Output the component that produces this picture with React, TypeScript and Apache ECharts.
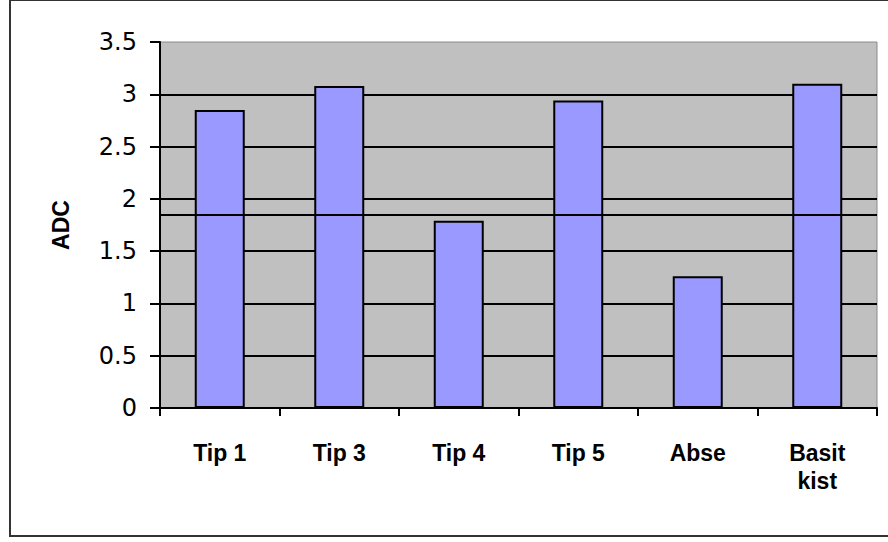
import React, { useEffect, useRef } from "react";
import * as echarts from "echarts";

const categories = ["Tip 1", "Tip 3", "Tip 4", "Tip 5", "Abse", "Basit\nkist"];
const adcValues = [2.85, 3.08, 1.79, 2.94, 1.26, 3.1];
const referenceValue = 1.85;
const yAxisTitle = "ADC";

export default function App() {
  const ref = useRef<HTMLDivElement>(null);
  useEffect(() => {
    if (!ref.current) return;
    const chart = echarts.init(ref.current, null, { renderer: "svg" });
    chart.setOption({
      animation: false,
      backgroundColor: "#ffffff",
      graphic: [
        {
          type: "rect",
          shape: { x: 10, y: 0, width: 890, height: 536 },
          style: { fill: "none", stroke: "#333", lineWidth: 2 },
          z: 100,
        },
      ],
      grid: {
        left: 160,
        top: 42,
        right: 11,
        bottom: 134,
        show: true,
        backgroundColor: "#C0C0C0",
        borderColor: "#8a8a8a",
        borderWidth: 1,
      },
      xAxis: {
        type: "category",
        data: categories,
        boundaryGap: true,
        axisLine: { show: true, lineStyle: { color: "#000", width: 2 } },
        axisTick: { show: true, alignWithLabel: false, length: 8, lineStyle: { color: "#000", width: 2 } },
        axisLabel: {
          color: "#000",
          fontFamily: "Liberation Sans, Arial, sans-serif",
          fontWeight: "bold",
          fontSize: 23,
          lineHeight: 28,
          margin: 31,
          interval: 0,
        },
        splitLine: { show: false },
      },
      yAxis: {
        type: "value",
        min: 0,
        max: 3.5,
        interval: 0.5,
        name: yAxisTitle,
        nameLocation: "middle",
        nameGap: 88,
        nameRotate: 90,
        nameTextStyle: {
          color: "#000",
          fontFamily: "Liberation Sans, Arial, sans-serif",
          fontWeight: "bold",
          fontSize: 23,
        },
        axisLine: { show: true, lineStyle: { color: "#000", width: 2 } },
        axisTick: { show: true, inside: false, length: 10, lineStyle: { color: "#000", width: 2 } },
        axisLabel: {
          color: "#000",
          fontFamily: "DejaVu Sans, sans-serif",
          fontSize: 24,
          margin: 23,
          formatter: (v: number) => String(v),
        },
        splitLine: { show: true, showMinLine: false, showMaxLine: false, lineStyle: { color: "#000", width: 2 } },
      },
      series: [
        {
          type: "bar",
          data: adcValues,
          barWidth: 50,
          itemStyle: { color: "#9999FF", borderColor: "#000", borderWidth: 2 },
          markLine: {
            silent: true,
            symbol: "none",
            label: { show: false },
            lineStyle: { color: "#000", width: 2, type: "solid" },
            data: [{ yAxis: referenceValue }],
          },
        },
      ],
    });
    return () => chart.dispose();
  }, []);
  return (
    <div
      ref={ref}
      style={{ position: "fixed", left: 0, top: 0, width: 888, height: 542 }}
    />
  );
}
